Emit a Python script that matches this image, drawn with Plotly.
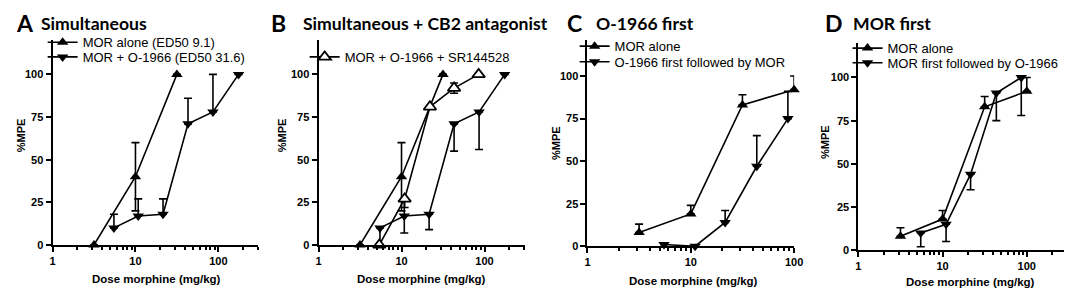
import plotly.graph_objects as go

# ---------------- data ----------------
# Panel A: Simultaneous
A_mor_x = [3.16, 10, 31.6]
A_mor_y = [0, 40, 100]
A_mor_ep = [0, 20, 0]
A_mor_em = [0, 20, 0]
A_comb_x = [5.5, 10.8, 21.5, 43, 86, 175]
A_comb_y = [10, 17, 18, 71, 78, 100]
A_comb_ep = [8, 10, 9, 15, 22, 0]
A_comb_em = [0, 0, 0, 0, 0, 0]

# Panel B: Simultaneous + CB2 antagonist
B_mor_x = [3.16, 10, 31.6]
B_mor_y = [0, 40, 100]
B_mor_ep = [0, 20, 0]
B_mor_em = [0, 20, 0]
B_comb_x = [5.5, 10.8, 21.5, 43, 86, 175]
B_comb_y = [10, 17, 18, 71, 78, 100]
B_comb_ep = [0, 10, 0, 0, 0, 0]
B_comb_em = [10, 10, 9, 16, 22, 0]
B_sr_x = [5.4, 10.9, 22, 43, 85]
B_sr_y = [0, 27, 81, 92, 100]
B_sr_ep = [0, 0, 0, 3, 0]
B_sr_em = [0, 5, 0, 3, 0]

# Panel C: O-1966 first
C_mor_x = [3.16, 10, 31.6, 100]
C_mor_y = [8, 19, 83, 92]
C_mor_ep = [5, 5, 6, 8]
C_mor_em = [0, 0, 0, 0]
C_seq_x = [5.5, 11, 21.5, 43.5, 87]
C_seq_y = [1, 0, 14, 47, 75]
C_seq_ep = [0, 0, 7, 18, 16]
C_seq_em = [0, 0, 0, 0, 0]

# Panel D: MOR first
D_mor_x = [3.16, 10, 31.6, 100]
D_mor_y = [8, 18, 83, 92]
D_mor_ep = [5, 5, 6, 8]
D_mor_em = [0, 0, 0, 0]
D_seq_x = [5.5, 11, 21.5, 43.5, 86]
D_seq_y = [10, 15, 44, 91, 100]
D_seq_ep = [0, 0, 0, 0, 0]
D_seq_em = [8, 10, 9, 16, 22]

x_major = [1, 10, 100]
x_minor = [2, 3, 4, 5, 6, 7, 8, 9, 20, 30, 40, 50, 60, 70, 80, 90, 200, 300]
y_ticks = [0, 25, 50, 75, 100]

# ---------------- figure ----------------
W, H = 1072, 288
fig = go.Figure()

BOLD = dict(family="Liberation Sans", size=11, color="black", weight="bold")
BOLD_T = dict(family="Liberation Sans", size=11.5, color="black", weight="bold")
LEGF = dict(family="Liberation Sans", size=13, color="black")


def px(v):
    return v / W


def py(v):
    return (H - v) / H


legends = {}


def add(xs, ys, ep, em, symbol, xa, ya, name, legend=None, pos=None, open_=False, size=10):
    fig.add_trace(go.Scatter(
        x=xs, y=ys, mode="lines+markers", name=name,
        xaxis=xa, yaxis=ya, legend=legend if legend else "legend",
        showlegend=legend is not None,
        line=dict(color="black", width=1.6),
        marker=dict(symbol=symbol, size=size,
                    color="white" if open_ else "black",
                    line=dict(color="black", width=1.8 if open_ else 0)),
        error_y=dict(type="data", array=ep, arrayminus=em, symmetric=False,
                     color="black", thickness=1.6, width=4),
        cliponaxis=False,
    ))
    if legend:
        tx, ty = pos
        legends[legend] = dict(x=px(tx - 48), y=py(ty), xanchor="left", yanchor="middle",
                               font=LEGF, bgcolor="rgba(0,0,0,0)", itemwidth=30,
                               itemclick=False, itemdoubleclick=False)


# Panel A
add(A_mor_x, A_mor_y, A_mor_ep, A_mor_em, "triangle-up", "x", "y", "MOR alone (ED50 9.1)", "legend", (80, 35))
add(A_comb_x, A_comb_y, A_comb_ep, A_comb_em, "triangle-down", "x", "y", "MOR + O-1966 (ED50 31.6)", "legend2", (80, 50))
# Panel B
add(B_mor_x, B_mor_y, B_mor_ep, B_mor_em, "triangle-up", "x2", "y2", "MOR alone")
add(B_comb_x, B_comb_y, B_comb_ep, B_comb_em, "triangle-down", "x2", "y2", "MOR + O-1966")
add(B_sr_x, B_sr_y, B_sr_ep, B_sr_em, "triangle-up", "x2", "y2", "MOR + O-1966 + SR144528", "legend3", (345, 50),
    open_=True, size=11)
# Panel C
add(C_mor_x, C_mor_y, C_mor_ep, C_mor_em, "triangle-up", "x3", "y3", "MOR alone", "legend4", (618, 39))
add(C_seq_x, C_seq_y, C_seq_ep, C_seq_em, "triangle-down", "x3", "y3", "O-1966 first followed by MOR", "legend5", (618, 55))
# Panel D
add(D_mor_x, D_mor_y, D_mor_ep, D_mor_em, "triangle-up", "x4", "y4", "MOR alone", "legend6", (894, 41))
add(D_seq_x, D_seq_y, D_seq_ep, D_seq_em, "triangle-down", "x4", "y4", "MOR first followed by O-1966", "legend7", (894, 56))


def xcfg(x0, x1, rng, anchor):
    return dict(type="log", domain=[px(x0), px(x1)], range=rng, anchor=anchor,
                showline=True, linecolor="black", linewidth=2, mirror=False,
                ticks="outside", ticklen=5, tickwidth=1.5, tickcolor="black",
                tickvals=x_major, ticktext=[str(v) for v in x_major],
                showgrid=False, zeroline=False, tickfont=BOLD,
                minor=dict(tickvals=x_minor, ticks="outside", ticklen=3, tickwidth=1.5,
                           tickcolor="black", showgrid=False))


def ycfg(y0, y1, top, anchor):
    return dict(domain=[py(y0), py(y1)], range=[0, top], anchor=anchor,
                showline=True, linecolor="black", linewidth=2,
                ticks="outside", ticklen=5, tickwidth=1.5, tickcolor="black",
                tickvals=y_ticks, showgrid=False, zeroline=False, tickfont=BOLD)


fig.update_layout(
    width=W, height=H, margin=dict(l=0, r=0, t=0, b=0),
    paper_bgcolor="white", plot_bgcolor="white",
    xaxis=xcfg(42, 250, [0, 2.48], "y"),
    yaxis=ycfg(242, 33, 120, "x"),
    xaxis2=xcfg(311, 520, [0, 2.49], "y2"),
    yaxis2=ycfg(242, 33, 120, "x2"),
    xaxis3=xcfg(583, 792, [0, 2.0], "y3"),
    yaxis3=ycfg(243.3, 33, 121, "x3"),
    xaxis4=xcfg(857, 1069, [0, 2.49], "y4"),
    yaxis4=ycfg(247.3, 35.7, 120, "x4"),
)
fig.update_layout(**legends)

TFONT = "Lato"
ann = []
# panel letters and titles
for letter, lx, title, tx in [("A", 14, "Simultaneous", 28), ("B", 271, "Simultaneous + CB2 antagonist", 293),
                              ("C", 570, "O-1966 first", 590), ("D", 832, "MOR first", 850)]:
    ann.append(dict(text="<b>%s</b>" % letter, x=px(lx), y=py(15), xref="paper", yref="paper",
                    xanchor="center", yanchor="middle", showarrow=False,
                    font=dict(family=TFONT, size=23, color="black")))
    ann.append(dict(text="<b>%s</b>" % title, x=px(tx), y=py(16), xref="paper", yref="paper",
                    xanchor="left", yanchor="middle", showarrow=False,
                    font=dict(family=TFONT, size=17.6, color="black")))
# axis titles
for cx, cy in [(147, 277), (415, 277), (690, 279), (970, 280)]:
    ann.append(dict(text="Dose morphine (mg/kg)", x=px(cx), y=py(cy), xref="paper", yref="paper",
                    xanchor="center", yanchor="middle", showarrow=False, font=BOLD_T))
for cx, cy in [(10, 130), (274, 130), (551, 138), (823, 137)]:
    ann.append(dict(text="%MPE", x=px(cx), y=py(cy), xref="paper", yref="paper",
                    xanchor="center", yanchor="middle", showarrow=False, textangle=-90, font=BOLD))
fig.update_layout(annotations=ann)

fig.write_html("out.html")
